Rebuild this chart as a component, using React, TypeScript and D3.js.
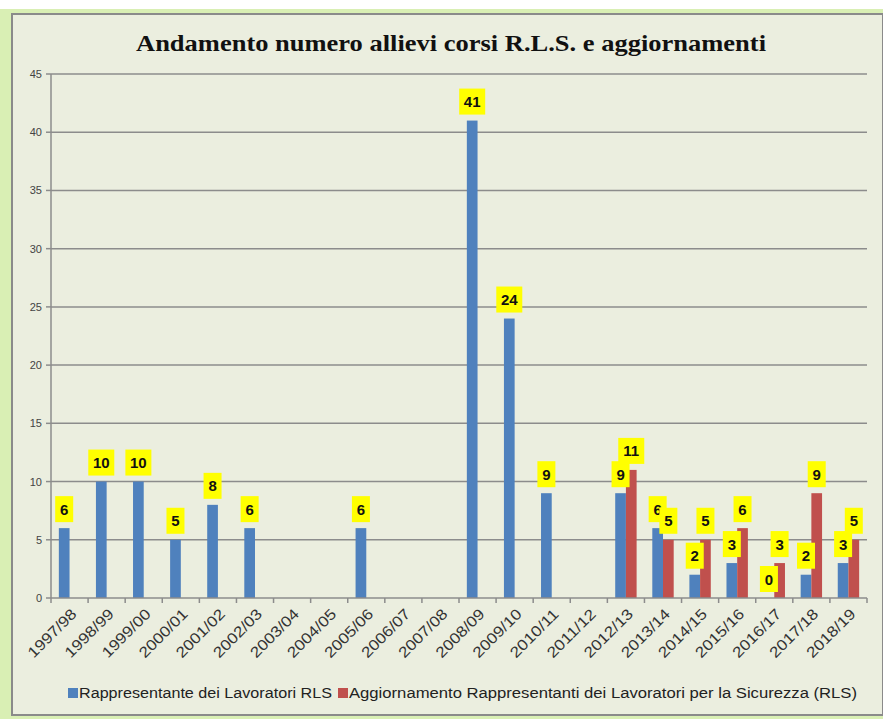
import React from "react";
import * as d3 from "d3";

const categories = ["1997/98","1998/99","1999/00","2000/01","2001/02","2002/03","2003/04","2004/05","2005/06","2006/07","2007/08","2008/09","2009/10","2010/11","2011/12","2012/13","2013/14","2014/15","2015/16","2016/17","2017/18","2018/19"];
const rlsValues: (number | null)[] = [6,10,10,5,8,6,null,null,6,null,null,41,24,9,null,9,6,2,3,0,2,3];
const aggValues: (number | null)[] = [null,null,null,null,null,null,null,null,null,null,null,null,null,null,null,11,5,5,6,3,9,5];
const yTicks = [0,5,10,15,20,25,30,35,40,45];
const seriesNames = ["Rappresentante dei Lavoratori RLS", "Aggiornamento Rappresentanti dei Lavoratori per la Sicurezza (RLS)"];
const colors = ["#4f81bd", "#c0504d"];
const title = "Andamento numero allievi corsi R.L.S. e aggiornamenti";

export default function App() {
  const W = 883, H = 719;
  const left = 51, right = 867, top = 74, bottom = 598;
  const x = d3.scaleBand<string>().domain(categories).range([left, right]).paddingInner(0).paddingOuter(0);
  const y = d3.scaleLinear().domain([0, 45]).range([bottom, top]);
  const bw = x.bandwidth();
  const barW = 10.7;
  const series = [rlsValues, aggValues];
  const font = "'Liberation Sans', Arial, sans-serif";
  const gridColor = "#8c8c8c";

  const labels: React.ReactNode[] = [];
  const bars: React.ReactNode[] = [];
  series.forEach((vals, si) => {
    vals.forEach((v, i) => {
      if (v === null) return;
      const cx = (x(categories[i]) as number) + bw / 2;
      const bx = cx - barW + si * barW;
      bars.push(
        <rect key={`b${si}-${i}`} x={bx} y={y(v)} width={barW} height={bottom - y(v)} fill={colors[si]} />
      );
      const txt = String(v);
      const boxW = txt.length > 1 ? 26 : 18;
      const boxH = 26;
      const lx = bx + barW / 2;
      const by = y(v) - 6 - boxH;
      labels.push(
        <g key={`l${si}-${i}`}>
          <rect x={lx - boxW / 2} y={by} width={boxW} height={boxH} fill="#ffff00" />
          <text x={lx} y={by + boxH / 2 + 5.5} textAnchor="middle" fontFamily={font} fontWeight="bold" fontSize={15} fill="#111">{txt}</text>
        </g>
      );
    });
  });

  return (
    <svg width={W} height={H} style={{ position: "absolute", left: 0, top: 0 }}>
      <rect x={0} y={0} width={W} height={H} fill="#ffffff" />
      <rect x={0} y={9} width={W} height={H - 9} fill="#d9efb4" />
      <rect x={12} y={14} width={W - 12} height={701} fill="#ebeedf" stroke="#8a8a8a" strokeWidth={2} />
      <text x={451} y={51} textAnchor="middle" fontFamily="'Liberation Serif', 'Times New Roman', serif" fontWeight="bold" fontSize={23} textLength={630} lengthAdjust="spacingAndGlyphs" fill="#111">{title}</text>
      {yTicks.map(t => (
        <g key={`y${t}`}>
          {t > 0 && <line x1={left} x2={right} y1={y(t)} y2={y(t)} stroke={gridColor} strokeWidth={1.5} />}
          <line x1={left - 5} x2={left} y1={y(t)} y2={y(t)} stroke={gridColor} strokeWidth={1.5} />
          <text x={42} y={y(t) + 4} textAnchor="end" fontFamily={font} fontSize={11} fill="#444">{t}</text>
        </g>
      ))}
      {bars}
      <line x1={left} x2={left} y1={top} y2={bottom} stroke={gridColor} strokeWidth={1.5} />
      <line x1={left} x2={right} y1={bottom} y2={bottom} stroke={gridColor} strokeWidth={1.5} />
      {categories.map((c, i) => {
        const tx = (x(c) as number);
        return <line key={`t${i}`} x1={tx} x2={tx} y1={bottom} y2={bottom + 5} stroke={gridColor} strokeWidth={1.5} />;
      })}
      <line x1={right} x2={right} y1={bottom} y2={bottom + 5} stroke={gridColor} strokeWidth={1.5} />
      {categories.map((c, i) => {
        const cx = (x(c) as number) + bw / 2 + 8;
        const cy = bottom + 17;
        return (
          <g key={`x${i}`} transform={`translate(${cx},${cy}) rotate(-45)`}>
            <text x={0} y={0} textAnchor="end" fontFamily={font} fontSize={15} fill="#333" textLength={62} lengthAdjust="spacingAndGlyphs">{c}</text>
          </g>
        );
      })}
      {labels}
      <rect x={68} y={688} width={10} height={10} fill={colors[0]} />
      <text x={79} y={698} fontFamily={font} fontSize={14} fill="#222" textLength={253} lengthAdjust="spacingAndGlyphs">{seriesNames[0]}</text>
      <rect x={338} y={688} width={10} height={10} fill={colors[1]} />
      <text x={349} y={698} fontFamily={font} fontSize={14} fill="#222" textLength={508} lengthAdjust="spacingAndGlyphs">{seriesNames[1]}</text>
    </svg>
  );
}
